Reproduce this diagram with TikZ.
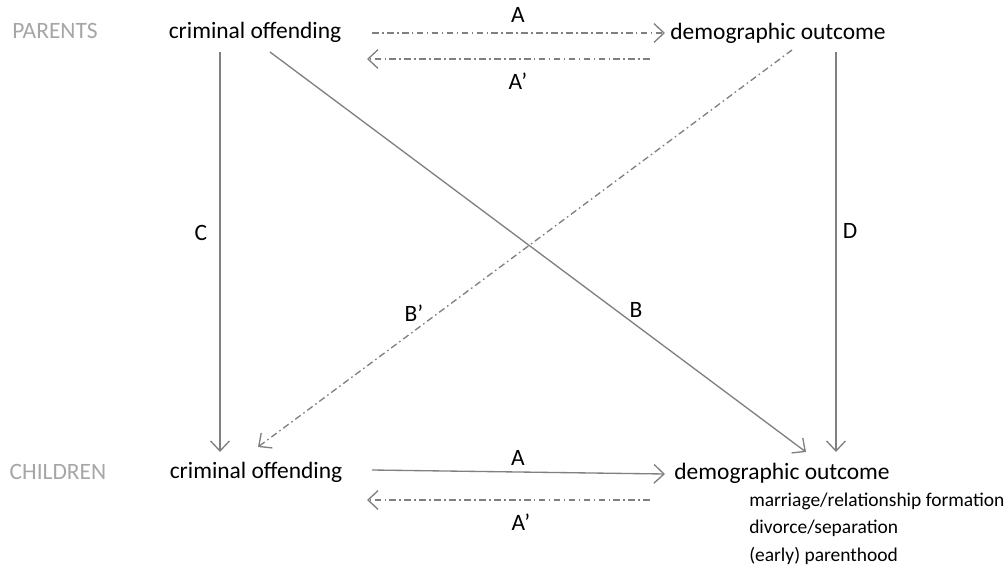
\documentclass[tikz,border=0pt]{standalone}
\usepackage{fontspec}
\setmainfont{Carlito}
\usetikzlibrary{arrows.meta}
\definecolor{linegray}{HTML}{808080}
\definecolor{labelgray}{HTML}{A6A6A6}
\begin{document}
\begin{tikzpicture}[x=0.75pt,y=-0.75pt,
  txt/.style={inner sep=0pt,anchor=center,font=\fontsize{17.6pt}{21pt}\selectfont},
  side/.style={txt,text=labelgray},
  small/.style={inner sep=0pt,anchor=west,font=\fontsize{14.6pt}{17pt}\selectfont},
  conn/.style={draw=linegray,line width=1pt,-{Straight Barb[length=7.5pt,width=14pt,line width=1pt]}},
  dd/.style={conn,dash pattern=on 5pt off 2.5pt on 1.2pt off 2.5pt}]
\useasboundingbox (0,0) rectangle (1008,565);
% row labels
\node[side] (par) at (55,31) {PARENTS};
\node[side] (chi) at (58,472) {CHILDREN};
% nodes
\node[txt] (pco) at (255,32) {criminal offending};
\node[txt] (pdo) at (778,33) {demographic outcome};
\node[txt] (cco) at (256,472) {criminal offending};
\node[txt] (cdo) at (782,473) {demographic outcome};
\node[small] (l1) at (749,501) {marriage/relationship formation};
\node[small] (l2) at (749,528) {divorce/separation};
\node[small] (l3) at (749,556) {(early) parenthood};
% connector end points
\coordinate (a1s) at (372,33); \coordinate (a1e) at (665,33);
\coordinate (a2s) at (650,59); \coordinate (a2e) at (367,59);
\coordinate (cs) at (220,52);  \coordinate (ce) at (220,452);
\coordinate (bs) at (270,52);  \coordinate (be) at (806,452);
\coordinate (b2s) at (792,50); \coordinate (b2e) at (258,447);
\coordinate (ds) at (836,52);  \coordinate (de) at (836,452);
\coordinate (a3s) at (372,470); \coordinate (a3e) at (665,474);
\coordinate (a4s) at (650,500); \coordinate (a4e) at (367,500);
% connectors
\draw[dd] (a1s) -- (a1e);
\draw[dd] (a2s) -- (a2e);
\draw[conn] (cs) -- (ce);
\draw[conn] (bs) -- (be);
\draw[dd] (b2s) -- (b2e);
\draw[conn] (ds) -- (de);
\draw[conn] (a3s) -- (a3e);
\draw[dd] (a4s) -- (a4e);
% labels
\node[txt] (la1) at (518,15) {A};
\node[txt] (la2) at (518,81) {A’};
\node[txt] (lc) at (201,233) {C};
\node[txt] (lb) at (636,310) {B};
\node[txt] (lb2) at (414,313) {B’};
\node[txt] (ld) at (850,231) {D};
\node[txt] (la3) at (518,458) {A};
\node[txt] (la4) at (521,522) {A’};
\end{tikzpicture}
\end{document}
